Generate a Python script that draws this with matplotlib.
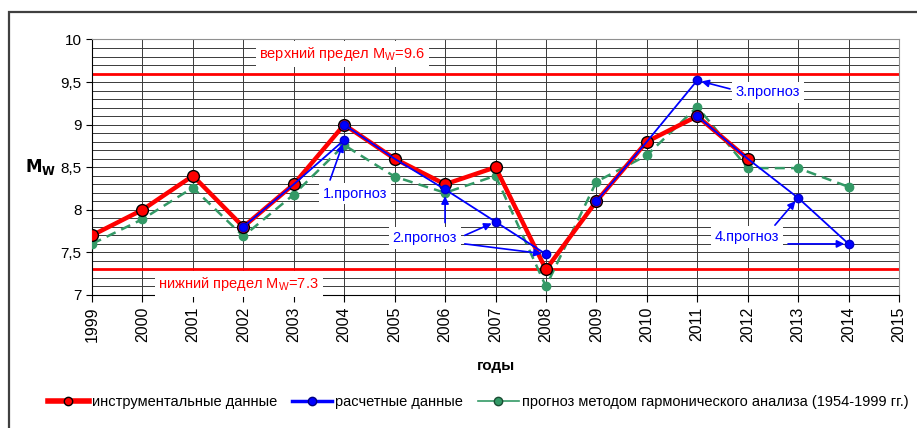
import matplotlib.pyplot as plt
from matplotlib.lines import Line2D
from matplotlib.patches import Rectangle
from matplotlib.ticker import MultipleLocator, FuncFormatter

plt.rcParams['font.family'] = ['Liberation Sans', 'DejaVu Sans']

# instrumental magnitudes
years_instr = [1999, 2000, 2001, 2002, 2003, 2004, 2005, 2006, 2007, 2008, 2009, 2010, 2011, 2012]
mw_instr = [7.7, 8.0, 8.4, 7.8, 8.3, 9.0, 8.6, 8.3, 8.5, 7.3, 8.1, 8.8, 9.1, 8.6]

# harmonic analysis forecast (1954-1999)
years_harm = [1999, 2000, 2001, 2002, 2003, 2004, 2005, 2006, 2007, 2008, 2009, 2010, 2011, 2012, 2013, 2014]
mw_harm = [7.6, 7.89, 8.26, 7.69, 8.18, 8.76, 8.39, 8.2, 8.4, 7.1, 8.33, 8.64, 9.21, 8.49, 8.49, 8.27]

# calculated data, four forecast segments
calc_years = [
    [2002, 2003, 2004],
    [2004, 2005, 2006, 2007, 2008],
    [2009, 2010, 2011],
    [2011, 2012, 2013, 2014],
]
calc_vals = [
    [7.8, 8.3, 8.82],
    [9.0, 8.6, 8.24, 7.86, 7.48],
    [8.1, 8.8, 9.52],
    [9.1, 8.6, 8.14, 7.6],
]
calc_marks = [[0, 2], [0, 2, 3, 4], [0, 2], [0, 2, 3]]

upper_limit = 9.6
lower_limit = 7.3
year_ticks = list(range(1999, 2016))

fig = plt.figure(figsize=(9.17, 4.28), dpi=100)
ax = fig.add_axes([92 / 917, 1 - 295 / 428, (899 - 92) / 917, (295 - 39.5) / 428])

ax.set_xlim(1999, 2015)
ax.set_ylim(7, 10)
ax.set_xticks(year_ticks)
ax.set_xticklabels([str(y) for y in year_ticks], rotation=90, fontsize=11.5)
ax.yaxis.set_major_locator(MultipleLocator(0.5))
ax.yaxis.set_minor_locator(MultipleLocator(0.1))
ax.yaxis.set_major_formatter(FuncFormatter(lambda v, p: ('%g' % v).replace('.', ',')))
ax.tick_params(axis='y', labelsize=11, length=4, direction='out')
ax.tick_params(axis='y', which='minor', length=0)
ax.tick_params(axis='x', length=5, direction='out')
ax.grid(True, which='both', color='#3a3a3a', lw=0.7)
ax.set_axisbelow(True)
for s in ['top', 'right']:
    ax.spines[s].set_color('#909090')

ax.axhline(upper_limit, color='#ff0000', lw=2, zorder=2)
ax.axhline(lower_limit, color='#ff0000', lw=2, zorder=2)

ax.plot(years_harm, mw_harm, color='#339966', lw=1.8, ls=(0, (4, 2.5)),
        marker='o', ms=6, mfc='#339966', mec='#339966', zorder=3)
ax.plot(years_instr, mw_instr, color='#ff0000', lw=3.2,
        marker='o', ms=8.5, mfc='#ff0000', mec='black', mew=1, zorder=4)
for yr, vals, mk in zip(calc_years, calc_vals, calc_marks):
    ax.plot(yr, vals, color='#0000ff', lw=1.3, marker='o', ms=6,
            mfc='#0000ff', mec='#0000cc', markevery=mk, zorder=5)

box = dict(boxstyle='square,pad=0.25', fc='white', ec='none')
ax.text(2003.96, 9.83, r'верхний предел M$\mathregular{_W}$=9.6', color='#ff0000',
        fontsize=10.5, ha='center', va='center', bbox=box, zorder=6)
ax.text(2001.91, 7.13, r'нижний предел M$\mathregular{_W}$=7.3', color='#ff0000',
        fontsize=10.5, ha='center', va='center', bbox=box, zorder=6)

labels = [
    ('1.прогноз', (2004.21, 8.19)),
    ('2.прогноз', (2005.60, 7.67)),
    ('3.прогноз', (2012.40, 9.38)),
    ('4.прогноз', (2011.99, 7.68)),
]
for txt, pos in labels:
    ax.text(pos[0], pos[1], txt, color='#0000ff', fontsize=10.5,
            ha='center', va='center', bbox=box, zorder=6)

arrows = [
    ((2003.72, 8.35), (2004, 8.82)),
    ((2006.0, 7.85), (2006, 8.21)),
    ((2006.39, 7.70), (2007, 7.86)),
    ((2006.39, 7.60), (2008, 7.48)),
    ((2011.65, 9.42), (2011, 9.52)),
    ((2012.54, 7.82), (2013, 8.14)),
    ((2012.80, 7.60), (2014, 7.6)),
]
for start, end in arrows:
    ax.annotate('', xy=end, xytext=start,
                arrowprops=dict(arrowstyle='-|>', color='#0000ff', lw=1.2,
                                mutation_scale=11, shrinkA=0, shrinkB=3),
                zorder=7)

ax.set_xlabel('годы', fontsize=11, fontweight='bold', labelpad=12)
fig.text(41 / 917, 1 - 167 / 428, r'$\mathbf{M_W}$', fontsize=12,
         ha='center', va='center')

handles = [
    Line2D([], [], color='#ff0000', lw=4, marker='o', ms=6, mfc='#ff0000', mec='black'),
    Line2D([], [], color='#0000ff', lw=2.5, marker='o', ms=6, mfc='#0000ff', mec='#000080'),
    Line2D([], [], color='#339966', lw=1.2, marker='o', ms=6, mfc='#339966', mec='#1a4d33'),
]
names = ['инструментальные данные', 'расчетные данные',
         'прогноз методом гармонического анализа (1954-1999 гг.)']
fig.legend(handles, names, loc='center left', bbox_to_anchor=(48 / 917, 1 - 402 / 428),
           ncol=3, frameon=False, fontsize=10.5, handlelength=2.8, handletextpad=0.2,
           columnspacing=1.0, borderpad=0, borderaxespad=0)

fig.add_artist(Rectangle((9 / 917, -0.2), 1.2, 1.2 - 12 / 428, transform=fig.transFigure,
                         fill=False, ec='#404040', lw=1.6))

fig.savefig('out.png', dpi=100)
